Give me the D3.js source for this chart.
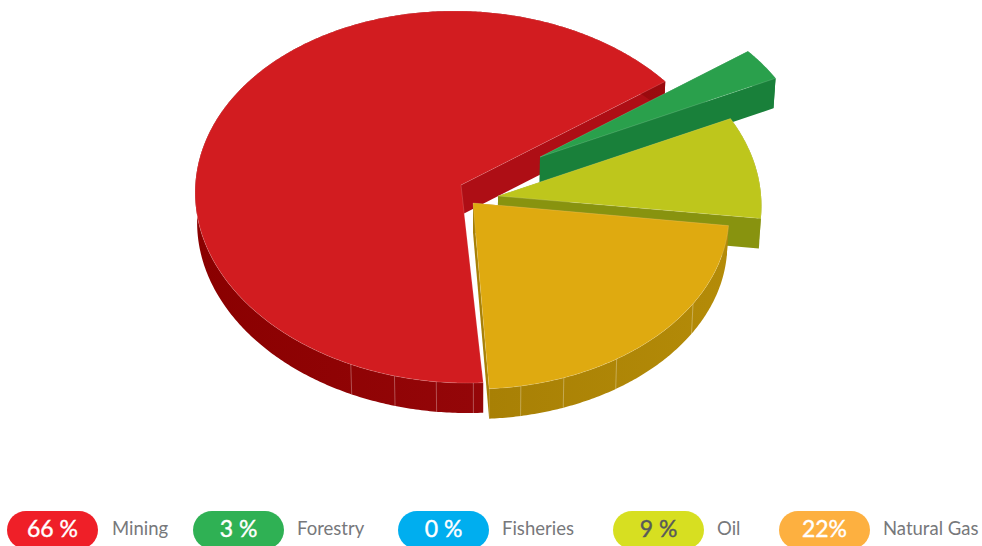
<!DOCTYPE html>
<html>
<head>
<meta charset="utf-8">
<script src="https://cdn.jsdelivr.net/npm/d3@7"></script>
<style>
  html, body { margin: 0; padding: 0; background: #fff; overflow: hidden; }
  svg { display: block; }
</style>
</head>
<body>
<svg id="chart" width="982" height="546"></svg>
<script>
// Chart data
const categories = ["Mining", "Forestry", "Fisheries", "Oil", "Natural Gas"];
const shares = [66, 3, 0, 9, 22];
const shareLabels = ["66 %", "3 %", "0 %", "9 %", "22%"];

// Slice colours: top face, end wall, outer wall gradient
const topColors = ["#d21c20", "#2aa04c", "#00aeef", "#bec61c", "#dfaa10"];
const wallColors = ["#ae0e15", "#19803a", "#0085b5", "#88930f", "#a88005"];
const outerFrom = ["#8a0000", "#19803a", "#0085b5", "#88930f", "#a88005"];
const outerTo = ["#9b0a0e", "#19803a", "#0085b5", "#88930f", "#b48b08"];
const pillColors = ["#ef1f28", "#2fb154", "#00aeef", "#d7df21", "#fdb040"];
const pillTextColors = ["#fff", "#fff", "#fff", "#58595b", "#fff"];

// Exploded layout of each slice: apex on screen, radius factors, skew and turn
const apexX = [461, 540, 540, 498, 473];
const apexY = [185, 157, 157, 196, 203];
const radiusX = [1.005, 1.02, 1.0, 0.997, 0.968];
const radiusY = [1.0, 0.98, 1.0, 1.0, 0.94];
const skewX = [0, -3, 0, -6, 0];
const skewY = [4.5, 0, 0, 2, 0];
const turnDeg = [0, -0.4, 0, 0, 1.1];

// Angles (degrees clockwise from the back) of the seams on the outer wall
const seamAngles = [
  [177.5, 185, 193.6, 203],
  [], [], [],
  [122.8, 146.8, 159.4, 168.8]
];

// Legend layout
const pillLeft = [7, 193, 398, 613, 779];
const labelLeft = [112, 297, 502, 717, 883];

const width = 982, height = 546;
const rimX = 264, rimY = 185.2, perspective = 0.0645, depth = 30;
const vanishX = 480, convergence = 0.007;
const startDeg = 175.5;

const svg = d3.select("#chart");
const defs = svg.append("defs");

const pie = d3.pie().sort(null)
  .startAngle(startDeg * Math.PI / 180)
  .endAngle((startDeg + 360) * Math.PI / 180);
const arcs = pie(shares);

// Perspective projection of a point on the tilted disc
function project(i, angle, r = 1) {
  const a = angle + turnDeg[i] * Math.PI / 180;
  const X = r * Math.sin(a), Y = -r * Math.cos(a);
  const q = 1 - perspective * Y;
  return [
    apexX[i] + (rimX * radiusX[i] * X + skewX[i] * Y) / q,
    apexY[i] + (rimY * radiusY[i] * Y + skewY[i] * X) / q
  ];
}
// The same point at the bottom of the extruded wall
function drop(p) {
  return [p[0] + (vanishX - p[0]) * convergence, p[1] + depth];
}
const line = d3.line();

function arcPoints(i, a0, a1) {
  const n = Math.max(2, Math.ceil((a1 - a0) / 0.01));
  return d3.range(n + 1).map(k => project(i, a0 + (a1 - a0) * k / n));
}

const slices = svg.append("g").attr("class", "slices");

arcs.forEach((d, i) => {
  if (d.value === 0) return;
  const g = slices.append("g").attr("class", "slice " + categories[i]);
  const apex = [apexX[i], apexY[i]];
  const rim = arcPoints(i, d.startAngle, d.endAngle);
  const last = rim[rim.length - 1], first = rim[0];

  const gradId = "outer-" + i;
  const grad = defs.append("linearGradient").attr("id", gradId)
    .attr("gradientUnits", "userSpaceOnUse")
    .attr("x1", d3.min(rim, p => p[0])).attr("x2", d3.max(rim, p => p[0]))
    .attr("y1", 0).attr("y2", 0);
  grad.append("stop").attr("offset", 0).attr("stop-color", outerFrom[i]);
  grad.append("stop").attr("offset", 1).attr("stop-color", outerTo[i]);

  // Wall along the slice's leading radius; Mining's is turned away from the viewer
  if (i !== 0) {
    g.append("path")
      .attr("d", line([apex, first, drop(first), drop(apex)]) + "Z")
      .attr("fill", wallColors[i]);
  }
  // Wall along the slice's trailing radius
  g.append("path")
    .attr("d", line([apex, last, drop(last), drop(apex)]) + "Z")
    .attr("fill", wallColors[i]);
  // Outer curved wall
  g.append("path")
    .attr("d", line(rim.concat(rim.map(drop).reverse())) + "Z")
    .attr("fill", `url(#${gradId})`);
  // Facet seams on the curved wall
  seamAngles[i].forEach(deg => {
    const p = project(i, deg * Math.PI / 180);
    g.append("path")
      .attr("d", line([p, drop(p)]))
      .attr("fill", "none")
      .attr("stroke", "#fff").attr("stroke-opacity", 0.3).attr("stroke-width", 1);
  });
  // Top face
  g.append("path")
    .attr("d", line([apex].concat(rim)) + "Z")
    .attr("fill", topColors[i])
    .attr("stroke", "#fff").attr("stroke-opacity", 0.22).attr("stroke-width", 0.7);
});

// Legend: a value pill and a name for every category
const legend = svg.append("g").attr("class", "legend")
  .selectAll("g").data(categories).join("g");

legend.append("rect")
  .attr("x", (d, i) => pillLeft[i]).attr("y", 511)
  .attr("width", 91).attr("height", 38).attr("rx", 19)
  .attr("fill", (d, i) => pillColors[i]);

legend.append("text")
  .attr("x", (d, i) => pillLeft[i] + 45.5).attr("y", 537)
  .attr("text-anchor", "middle")
  .attr("font-family", "Lato, sans-serif").attr("font-size", 23).attr("font-weight", 400)
  .attr("fill", (d, i) => pillTextColors[i])
  .attr("stroke", (d, i) => pillTextColors[i]).attr("stroke-width", 0.4)
  .text((d, i) => shareLabels[i]);

legend.append("text")
  .attr("x", (d, i) => labelLeft[i]).attr("y", 535)
  .attr("font-family", "Lato, sans-serif").attr("font-size", 18.5)
  .attr("fill", "#77787b")
  .text(d => d);
</script>
</body>
</html>
